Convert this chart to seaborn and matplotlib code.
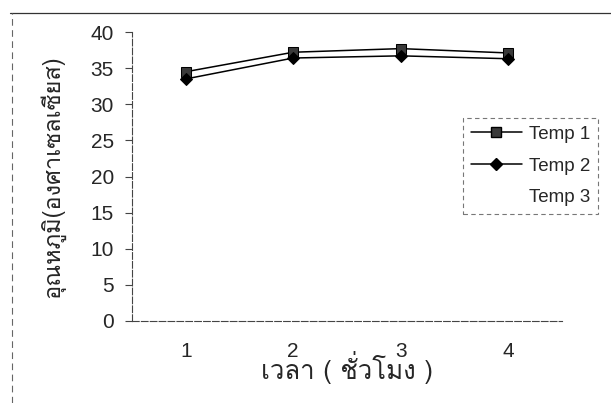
import numpy as np
import pandas as pd
import matplotlib
matplotlib.use("Agg")
import matplotlib.pyplot as plt
import seaborn as sns
from matplotlib.lines import Line2D
from matplotlib import font_manager as fm

hours = [1, 2, 3, 4]
temp1 = [34.5, 37.2, 37.7, 37.1]
temp2 = [33.5, 36.4, 36.7, 36.3]
series_names = ["Temp 1", "Temp 2", "Temp 3"]
y_ticks = [0, 5, 10, 15, 20, 25, 30, 35, 40]
x_label = "เวลา ( ชั่วโมง )"
y_label = "อุณหภูมิ(องศาเซลเซียส)"

sns.set_theme(style="white")

# find a font with Thai glyphs
thai_font = None
try:
    from fontTools.ttLib import TTFont
    for f in fm.fontManager.ttflist:
        try:
            tt = TTFont(f.fname, fontNumber=0, lazy=True)
            cmap = tt.getBestCmap()
            if cmap and 0x0E2D in cmap and 0x0E38 in cmap:
                thai_font = f.name
                break
        except Exception:
            pass
except Exception:
    pass

base = "Liberation Sans"
plt.rcParams["font.family"] = [base, "DejaVu Sans"]
thai_family = [thai_font, base, "DejaVu Sans"] if thai_font else [base, "DejaVu Sans"]

df = pd.DataFrame({
    "hour": hours * 2,
    "temp": temp1 + temp2,
    "series": [series_names[0]] * 4 + [series_names[1]] * 4,
})

fig = plt.figure(figsize=(6.11, 4.03), dpi=100)
ax = fig.add_axes([132 / 611, 1 - 321 / 403, 430 / 611, 289 / 403])

d1 = df[df.series == "Temp 1"]
d2 = df[df.series == "Temp 2"]
sns.lineplot(data=d1, x="hour", y="temp", ax=ax, color="black", lw=1.1,
             marker="s", markersize=7.5, markerfacecolor="#3a3a3a",
             markeredgecolor="black", legend=False)
sns.lineplot(data=d2, x="hour", y="temp", ax=ax, color="black", lw=1.1,
             marker="D", markersize=6.5, markerfacecolor="black",
             markeredgecolor="black", legend=False)

ax.set_xlim(0.5, 4.5)
ax.set_ylim(0, 40)
ax.set_xticks(hours)
ax.set_yticks(y_ticks)
ax.tick_params(axis="x", length=0, pad=15, labelsize=15)
ax.tick_params(axis="y", length=5, width=0.8, direction="out", pad=8,
               labelsize=15, left=True, color="#444")
for s in ["top", "right"]:
    ax.spines[s].set_visible(False)
for s in ["left", "bottom"]:
    ax.spines[s].set_color("#444")
    ax.spines[s].set_linewidth(0.8)
    ax.spines[s].set_linestyle((0, (6, 2)))

ax.set_xlabel(x_label, fontsize=18.5, family=thai_family, labelpad=-7)
ax.set_ylabel(y_label, fontsize=17, family=thai_family, labelpad=18)

handles = [
    Line2D([], [], color="black", lw=1.1, marker="s", markersize=7.5,
           markerfacecolor="#3a3a3a", markeredgecolor="black"),
    Line2D([], [], color="black", lw=1.1, marker="D", markersize=6.5,
           markerfacecolor="black", markeredgecolor="black"),
    Line2D([], [], color="none", lw=1.1),
]
leg = fig.legend(handles, series_names, loc="upper left",
                 bbox_to_anchor=(463 / 611, 1 - 118 / 403), borderaxespad=0,
                 fontsize=13.5, frameon=True, fancybox=False, handlelength=2.7,
                 handletextpad=0.4, labelspacing=0.78, borderpad=0.42)
fr = leg.get_frame()
fr.set_edgecolor("#555")
fr.set_linewidth(0.8)
fr.set_linestyle((0, (4, 3)))

fig.add_artist(Line2D([10 / 611, 1], [1 - 13 / 403, 1 - 13 / 403],
                      transform=fig.transFigure, color="#333", lw=0.9))
fig.add_artist(Line2D([12 / 611, 12 / 611], [0, 1 - 13 / 403],
                      transform=fig.transFigure, color="#666", lw=0.8,
                      linestyle=(0, (6, 4))))

fig.savefig("out.png", dpi=100)
